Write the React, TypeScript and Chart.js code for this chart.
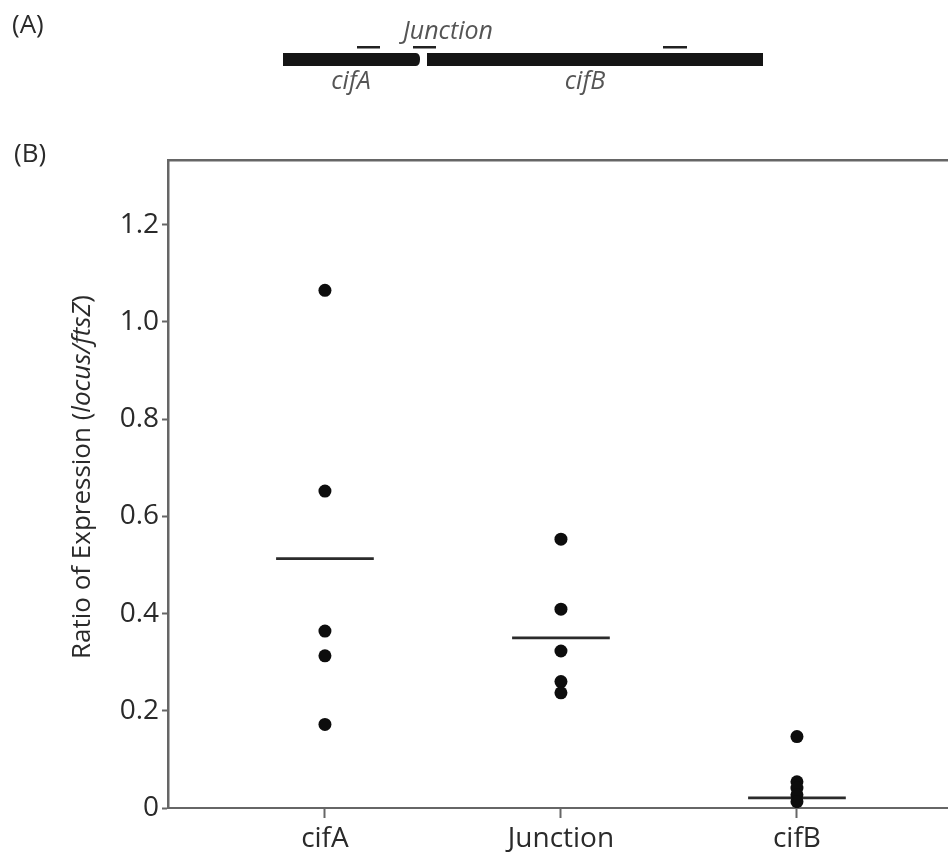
import React, { useEffect, useRef } from "react";
import { Chart, registerables } from "chart.js";

Chart.register(...registerables);

// ---------------- data ----------------
const categories = ["cifA", "Junction", "cifB"];
const cifAValues = [1.065, 0.652, 0.364, 0.313, 0.172];
const junctionValues = [0.553, 0.409, 0.323, 0.26, 0.237];
const cifBValues = [0.147, 0.054, 0.041, 0.027, 0.013];
const meanValues = [0.513, 0.35, 0.021];
const yTickValues = [0, 0.2, 0.4, 0.6, 0.8, 1.0, 1.2];
const yTickLabels = ["0", "0.2", "0.4", "0.6", "0.8", "1.0", "1.2"];
const yTitleParts = [
  { text: "Ratio of Expression (", italic: false },
  { text: "locus/ftsZ", italic: true },
  { text: ")", italic: false },
];

const seriesValues = [cifAValues, junctionValues, cifBValues];

// ---------------- styling ----------------
const FONT = "'Open Sans', 'DejaVu Sans', sans-serif";
const AXIS_COLOR = "#666666";
const TEXT_COLOR = "#2a2a2a";
const MEAN_HALF_WIDTH = 0.207;

const yTitlePlugin = {
  id: "yTitlePlugin",
  afterDraw(chart: any) {
    const ctx = chart.ctx as CanvasRenderingContext2D;
    const size = 26;
    const fonts = (it: boolean) => `${it ? "italic " : ""}${size}px ${FONT}`;
    let total = 0;
    const widths = yTitleParts.map((p) => {
      ctx.font = fonts(p.italic);
      const w = ctx.measureText(p.text).width;
      total += w;
      return w;
    });
    const cy = 477;
    const bx = 90;
    ctx.save();
    ctx.translate(bx, cy);
    ctx.rotate(-Math.PI / 2);
    ctx.fillStyle = TEXT_COLOR;
    ctx.textBaseline = "alphabetic";
    ctx.textAlign = "left";
    let x = -total / 2;
    yTitleParts.forEach((p, i) => {
      ctx.font = fonts(p.italic);
      ctx.fillText(p.text, x, 0);
      x += widths[i];
    });
    ctx.restore();
  },
};

function ChartCanvas() {
  const ref = useRef<HTMLCanvasElement | null>(null);
  useEffect(() => {
    if (!ref.current) return;
    const points = seriesValues.flatMap((vals, i) =>
      vals.map((v) => ({ x: i + 1, y: v }))
    );
    const meanSets = meanValues.map((m, i) => ({
      type: "line" as const,
      data: [
        { x: i + 1 - MEAN_HALF_WIDTH, y: m },
        { x: i + 1 + MEAN_HALF_WIDTH, y: m },
      ],
      borderColor: "#2b2b2b",
      borderWidth: 2.8,
      pointRadius: 0,
      fill: false,
      order: 2,
    }));
    const chart = new Chart(ref.current, {
      type: "scatter",
      data: {
        datasets: [
          {
            data: points,
            backgroundColor: "#0d0d0d",
            borderColor: "#0d0d0d",
            borderWidth: 0,
            pointRadius: 6.5,
            order: 1,
          } as any,
          ...(meanSets as any[]),
        ],
      },
      options: {
        animation: false,
        responsive: false,
        devicePixelRatio: 1,
        layout: { autoPadding: false, padding: { top: 160, left: 0, right: 0, bottom: 0 } },
        plugins: {
          legend: { display: false },
          tooltip: { enabled: false },
          title: { display: false },
        },
        scales: {
          x: {
            type: "linear",
            position: "bottom",
            min: 0.335,
            max: 3.64,
            afterBuildTicks: (s: any) => {
              s.ticks = categories.map((_, i) => ({ value: i + 1 }));
            },
            afterFit: (s: any) => {
              s.height = 55;
              s.paddingLeft = 0;
              s.paddingRight = 0;
            },
            grid: {
              display: true,
              drawOnChartArea: false,
              drawTicks: true,
              tickLength: 10,
              tickColor: AXIS_COLOR,
              tickWidth: 2,
            },
            border: { display: true, color: AXIS_COLOR, width: 2 },
            ticks: {
              autoSkip: false,
              maxRotation: 0,
              padding: 4,
              color: TEXT_COLOR,
              font: { family: FONT, size: 28 },
              callback: (v: any) => categories[Math.round(Number(v)) - 1] ?? "",
            },
          },
          x2: {
            type: "linear",
            position: "top",
            min: 0,
            max: 1,
            afterBuildTicks: (s: any) => {
              s.ticks = [];
            },
            afterFit: (s: any) => {
              s.height = 0;
              s.paddingLeft = 0;
              s.paddingRight = 0;
            },
            grid: { display: true, drawOnChartArea: false, drawTicks: false },
            border: { display: true, color: AXIS_COLOR, width: 2.5 },
            ticks: { display: false },
          },
          y: {
            type: "linear",
            min: 0,
            max: 1.333,
            afterBuildTicks: (s: any) => {
              s.ticks = yTickValues.map((v) => ({ value: v }));
            },
            afterFit: (s: any) => {
              s.width = 168;
              s.paddingTop = 0;
              s.paddingBottom = 0;
            },
            grid: {
              display: true,
              drawOnChartArea: false,
              drawTicks: true,
              tickLength: 6,
              tickColor: AXIS_COLOR,
              tickWidth: 2,
            },
            border: { display: true, color: AXIS_COLOR, width: 2.5 },
            ticks: {
              padding: 3,
              color: TEXT_COLOR,
              font: { family: FONT, size: 28 },
              callback: (_v: any, i: number) => yTickLabels[i],
            },
          },
        },
      } as any,
      plugins: [yTitlePlugin],
    });
    return () => chart.destroy();
  }, []);
  return <canvas ref={ref} width={948} height={863} style={{ display: "block" }} />;
}

function GeneDiagram() {
  const gray = "#555555";
  return (
    <svg
      width={948}
      height={200}
      style={{ position: "absolute", left: 0, top: 0, pointerEvents: "none" }}
    >
      <text x={12} y={33} fontFamily={FONT} fontSize={26} fill={TEXT_COLOR}>
        (A)
      </text>
      <text x={14} y={162} fontFamily={FONT} fontSize={26} fill={TEXT_COLOR}>
        (B)
      </text>
      <path d="M283 53 H416 Q420 53 420 59.5 Q420 66 416 66 H283 Z" fill="#151515" />
      <rect x={427} y={53} width={336} height={13} fill="#151515" />
      <rect x={357} y={46} width={23} height={2.5} fill="#222" />
      <rect x={413} y={46} width={23} height={2.5} fill="#222" />
      <rect x={663} y={46} width={24} height={2.5} fill="#222" />
      <text x={448} y={39} textAnchor="middle" fontFamily={FONT} fontStyle="italic" fontSize={25} fill={gray}>
        Junction
      </text>
      <text x={351} y={89} textAnchor="middle" fontFamily={FONT} fontStyle="italic" fontSize={25} fill={gray}>
        cifA
      </text>
      <text x={585} y={89} textAnchor="middle" fontFamily={FONT} fontStyle="italic" fontSize={25} fill={gray}>
        cifB
      </text>
    </svg>
  );
}

export default function App() {
  return (
    <div
      style={{
        position: "absolute",
        left: 0,
        top: 0,
        width: 948,
        height: 863,
        background: "#ffffff",
        overflow: "hidden",
      }}
    >
      <ChartCanvas />
      <GeneDiagram />
    </div>
  );
}
